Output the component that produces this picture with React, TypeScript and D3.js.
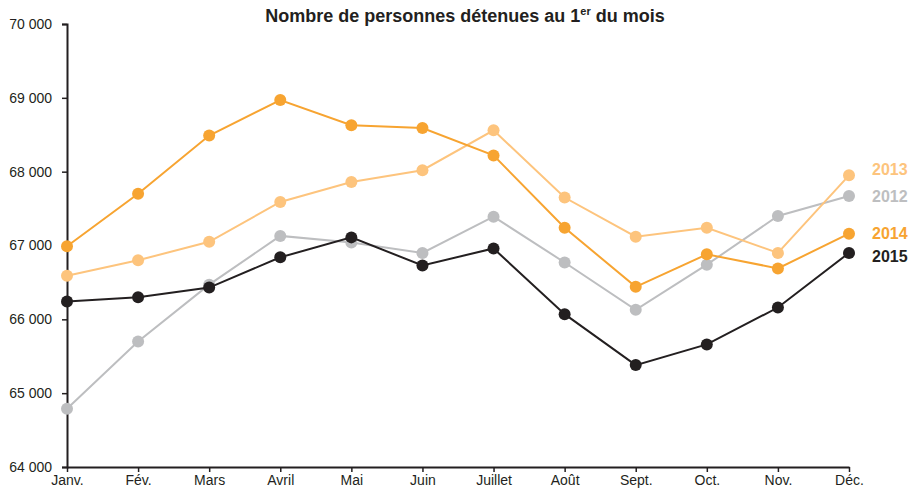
import { useEffect, useRef } from 'react';
import * as d3 from 'd3';

const MONTHS = ['Janv.', 'Fév.', 'Mars', 'Avril', 'Mai', 'Juin', 'Juillet', 'Août', 'Sept.', 'Oct.', 'Nov.', 'Déc.'];
const Y_TICKS = [64000, 65000, 66000, 67000, 68000, 69000, 70000];

const VALUES_2012 = [64790, 65700, 66470, 67130, 67040, 66900, 67390, 66770, 66130, 66740, 67400, 67670];
const VALUES_2013 = [66590, 66800, 67050, 67590, 67860, 68020, 68560, 67650, 67120, 67240, 66900, 67950];
const VALUES_2014 = [66990, 67700, 68490, 68970, 68630, 68590, 68220, 67240, 66440, 66880, 66690, 67160];
const VALUES_2015 = [66240, 66300, 66430, 66840, 67110, 66730, 66960, 66070, 65380, 65660, 66160, 66900];

const SERIES = [
  { name: '2012', values: VALUES_2012, color: '#bdbec0', labelDy: 0 },
  { name: '2013', values: VALUES_2013, color: '#fdc47d', labelDy: -6 },
  { name: '2014', values: VALUES_2014, color: '#f7a431', labelDy: 0 },
  { name: '2015', values: VALUES_2015, color: '#231f20', labelDy: 4 },
];

const W = 916;
const H = 489;

export default function App() {
  const svgRef = useRef<SVGSVGElement>(null);

  useEffect(() => {
    if (!svgRef.current) return;
    const svg = d3.select(svgRef.current);
    svg.selectAll('*').remove();

    const x = d3.scalePoint<string>().domain(MONTHS).range([67, 849]);
    const y = d3.scaleLinear().domain([64000, 70000]).range([467, 24]);
    const font = 'Liberation Sans, Arial, sans-serif';

    // Title
    const title = svg.append('text')
      .attr('x', 465)
      .attr('y', 22)
      .attr('text-anchor', 'middle')
      .attr('font-family', font)
      .attr('font-size', '18px')
      .attr('font-weight', 'bold')
      .attr('fill', '#231f20');
    title.append('tspan').text('Nombre de personnes détenues au 1');
    title.append('tspan').attr('font-size', '11px').attr('dy', -7).text('er');
    title.append('tspan').attr('dy', 7).text(' du mois');

    // Y axis
    const yAxis = svg.append('g')
      .attr('transform', 'translate(67,0)')
      .call(d3.axisLeft(y).tickValues(Y_TICKS).tickSize(5).tickPadding(10)
        .tickFormat((d) => d3.format(',')(d as number).replace(',', ' ')));
    yAxis.select('.domain').attr('stroke', '#231f20').attr('stroke-width', 2);
    yAxis.selectAll('.tick line').attr('stroke', '#231f20').attr('stroke-width', 1.5);
    yAxis.selectAll('.tick text')
      .attr('font-family', font)
      .attr('font-size', '14px')
      .attr('fill', '#231f20');

    // X axis
    const xAxis = svg.append('g')
      .attr('transform', 'translate(0,467)')
      .call(d3.axisBottom(x).tickSize(5).tickPadding(3).tickSizeOuter(0));
    xAxis.select('.domain').attr('stroke', '#231f20').attr('stroke-width', 2);
    xAxis.selectAll('.tick line').attr('stroke', '#231f20').attr('stroke-width', 1.5);
    xAxis.selectAll('.tick text')
      .attr('font-family', font)
      .attr('font-size', '14px')
      .attr('fill', '#231f20');

    const line = d3.line<number>()
      .x((_, i) => x(MONTHS[i]) as number)
      .y((d) => y(d));

    SERIES.forEach((s) => {
      const g = svg.append('g');
      g.append('path')
        .attr('d', line(s.values) || '')
        .attr('fill', 'none')
        .attr('stroke', s.color)
        .attr('stroke-width', 2);
      g.selectAll('circle')
        .data(s.values)
        .enter()
        .append('circle')
        .attr('cx', (_, i) => x(MONTHS[i]) as number)
        .attr('cy', (d) => y(d))
        .attr('r', 6)
        .attr('fill', s.color);
      g.append('text')
        .attr('x', 872)
        .attr('y', y(s.values[s.values.length - 1]) + s.labelDy)
        .attr('dy', '0.35em')
        .attr('font-family', font)
        .attr('font-size', '16px')
        .attr('font-weight', 'bold')
        .attr('fill', s.color)
        .text(s.name);
    });
  }, []);

  return (
    <div style={{ position: 'absolute', left: 0, top: 0 }}>
      <svg ref={svgRef} width={W} height={H} viewBox={`0 0 ${W} ${H}`} style={{ display: 'block', background: '#fff' }} />
    </div>
  );
}
